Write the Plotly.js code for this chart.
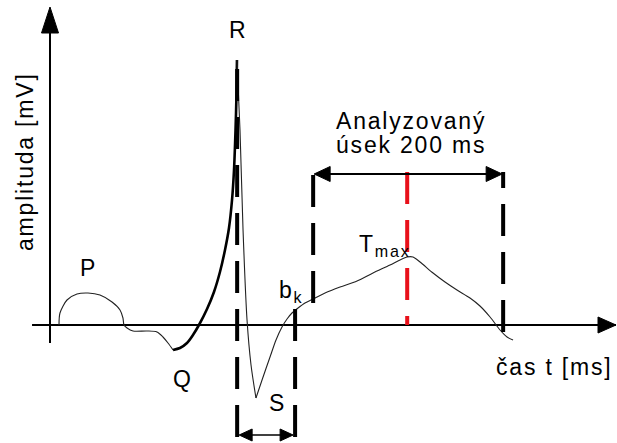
<!DOCTYPE html>
<html><head><meta charset="utf-8">
<script src="https://cdn.plot.ly/plotly-3.0.1.min.js"></script>
<style>
html,body{margin:0;padding:0;background:#fff;}
#chart{width:617px;height:443px;}
text{letter-spacing:1.8px;}
</style></head><body><div id="chart"></div>
<script>
// ---- data (time in ms, amplitude in mV) ----
const pWaveT = [9.5, 10.5, 17.9, 28.4, 40.0, 52.6, 65.3, 73.7, 76.8, 77.9, 81.1, 87.4, 102.1, 112.6, 118.9, 124.2, 129.5];
const pWaveA = [0, 0.06, 0.125, 0.155, 0.16, 0.15, 0.115, 0.075, 0.035, 0, -0.015, -0.03, -0.03, -0.035, -0.06, -0.09, -0.125];
const qrT = [129.5, 136.8, 144.2, 150.5, 156.8, 165.3, 172.6, 178.9, 184.2, 188.4, 191.6, 193.7, 195.3, 196.3, 196.8];
const qrA = [-0.125, -0.115, -0.09, -0.05, 0, 0.08, 0.165, 0.265, 0.375, 0.485, 0.625, 0.775, 0.975, 1.15, 1.325];
const rsT = [196.8, 200, 203.2, 207.4, 211.6, 216.8];
const rsA = [1.325, 0.975, 0.475, 0.025, -0.2, -0.365];
const stT = [216.8, 223.2, 231.6, 237.9, 244.2, 249.5, 254.7, 261.1, 268.4, 276.8, 289.5, 305.3, 323.2, 340, 357.9, 368.4, 375.8, 382.1, 389.5, 403.2, 415.8, 428.4, 442.1, 452.6, 463.2, 473.7, 481.1, 487.4];
const stA = [-0.365, -0.275, -0.16, -0.075, -0.01, 0.03, 0.06, 0.085, 0.11, 0.13, 0.16, 0.19, 0.22, 0.26, 0.3, 0.325, 0.34, 0.34, 0.315, 0.26, 0.215, 0.175, 0.135, 0.095, 0.04, -0.025, -0.06, -0.075];

// marker times: R peak, S end, b_k, T max, end of 200 ms window
const markerNames = ['R', 'Send', 'bk', 'Tmax', 'winEnd'];
const markerT = [197, 258, 277, 376, 477];
const markerFrom = [-0.56, -0.56, 0.11, 0.765, -0.035];
const markerTo = [1.325, 0.09, 0.765, 0, 0.765];

// arrows (amplitude level of horizontal double arrows)
const windowArrowA = 0.755;
const sArrowA = -0.55;

// axes extents
const xAxisT = [-18.9, 595.8];
const yAxisA = [-0.09, 1.59];

// labels
const labelText = ['R', 'P', 'Q', 'S', 'b<sub>k</sub>', 'T<sub>max</sub>', 'Analyzovaný', 'úsek 200 ms', 'čas t [ms]', 'amplituda [mV]'];
const labelT = [198, 41, 140, 239, 238.9, 323.2, 380, 380, 593.5, -26.3];
const labelA = [1.475, 0.285, -0.27, -0.39, 0.17, 0.4, 1.02, 0.9, -0.21, 0.815];

// ---- drawing ----
const W = 617, H = 443;
const xr = [-52.63, 596.84], yr = [-0.59, 1.625];
const pxT = (xr[1] - xr[0]) / W, pxA = (yr[1] - yr[0]) / H;
const traces = [];
function line(x, y, color, width, dash, shape) {
  traces.push({x: x, y: y, mode: 'lines', hoverinfo: 'skip',
    line: {color: color, width: width, dash: dash || 'solid', shape: shape || 'linear', smoothing: 0.8}});
}
function tri(tipT, tipA, dir, len, half) {
  let x, y;
  if (dir === 'up') { x = [tipT, tipT - half * pxT, tipT + half * pxT, tipT]; y = [tipA, tipA - len * pxA, tipA - len * pxA, tipA]; }
  else if (dir === 'right') { x = [tipT, tipT - len * pxT, tipT - len * pxT, tipT]; y = [tipA, tipA + half * pxA, tipA - half * pxA, tipA]; }
  else { x = [tipT, tipT + len * pxT, tipT + len * pxT, tipT]; y = [tipA, tipA + half * pxA, tipA - half * pxA, tipA]; }
  traces.push({x: x, y: y, mode: 'lines', fill: 'toself', fillcolor: '#000', hoverinfo: 'skip', line: {color: '#000', width: 1}});
}
// axes
line(xAxisT, [0, 0], '#000', 2);
line([0, 0], [yAxisA[0], yAxisA[1] - 20 * pxA], '#000', 2);
tri(0, yAxisA[1], 'up', 26, 8.5);
tri(xAxisT[1], 0, 'right', 18, 8);
// ECG curve
line(pWaveT, pWaveA, '#222', 1.1, 'solid', 'spline');
line(qrT, qrA, '#000', 2.6, 'solid', 'spline');
line(rsT, rsA, '#222', 1.1, 'solid', 'spline');
line(stT, stA, '#222', 1.1, 'solid', 'spline');
// markers
for (let i = 0; i < markerT.length; i++) {
  const col = markerNames[i] === 'Tmax' ? '#e8101a' : '#000';
  line([markerT[i], markerT[i]], [markerFrom[i], markerTo[i]], col, 4, '32px,16px');
}
// window arrow
line([markerT[2] + 10 * pxT, markerT[4] - 10 * pxT], [windowArrowA, windowArrowA], '#000', 2);
tri(markerT[2] + 1 * pxT, windowArrowA, 'left', 16, 7.5);
tri(markerT[4] - 1 * pxT, windowArrowA, 'right', 16, 7.5);
// S arrow
line([markerT[0] + 8 * pxT, markerT[1] - 8 * pxT], [sArrowA, sArrowA], '#000', 1.5);
tri(markerT[0] + 2 * pxT, sArrowA, 'left', 13, 6);
tri(markerT[1] - 2 * pxT, sArrowA, 'right', 13, 6);

const font = {family: 'Liberation Sans, Arial, sans-serif', size: 23, color: '#000'};
const annotations = labelText.map((t, i) => ({
  text: t, x: labelT[i], y: labelA[i], xref: 'x', yref: 'y', showarrow: false,
  xanchor: (i === 4 || i === 5) ? 'left' : (i === 8 ? 'right' : 'center'), yanchor: 'middle',
  textangle: i === 9 ? -90 : 0, font: font
}));

Plotly.newPlot('chart', traces, {
  width: W, height: H, margin: {l: 0, r: 0, t: 0, b: 0},
  paper_bgcolor: '#fff', plot_bgcolor: '#fff', showlegend: false,
  xaxis: {range: xr, visible: false, fixedrange: true},
  yaxis: {range: yr, visible: false, fixedrange: true},
  annotations: annotations
}, {staticPlot: true});
</script></body></html>
